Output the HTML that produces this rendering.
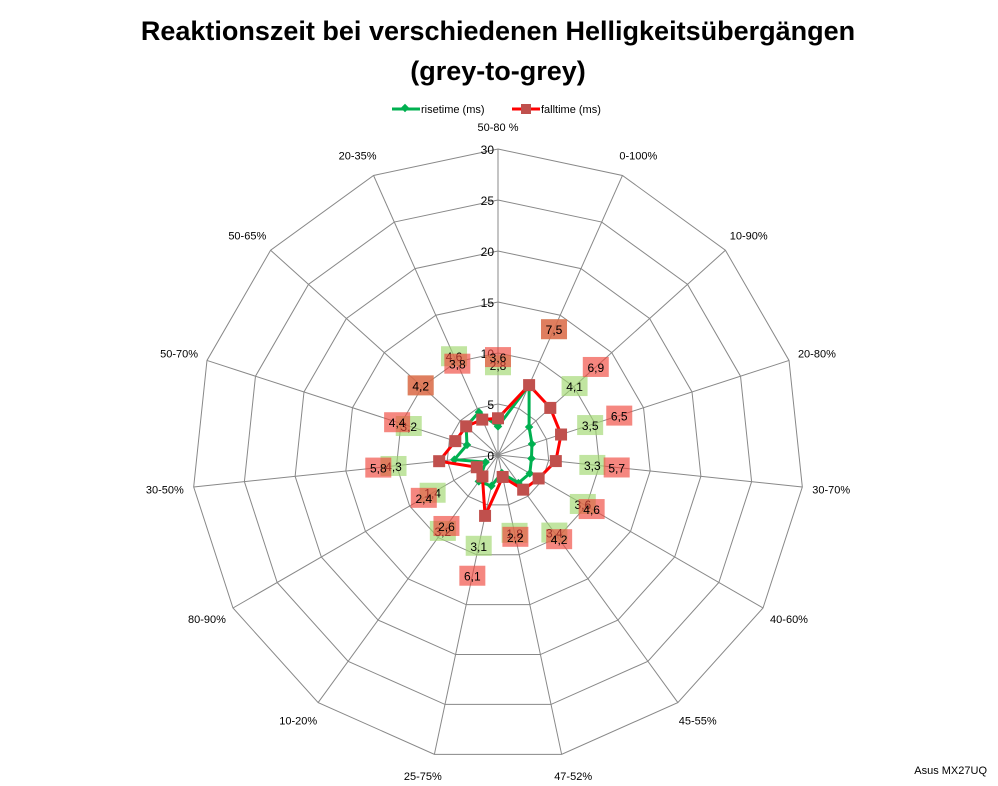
<!DOCTYPE html>
<html><head><meta charset="utf-8"><style>
body{margin:0;background:#fff;}
svg{display:block;font-family:"Liberation Sans",sans-serif;}
</style></head><body>
<svg id="chart" width="998" height="786" viewBox="0 0 998 786">
<text x="498" y="40" text-anchor="middle" font-size="27" font-weight="bold">Reaktionszeit bei verschiedenen Helligkeitsübergängen</text>
<text x="498" y="80" text-anchor="middle" font-size="27" font-weight="bold">(grey-to-grey)</text>
<g>
<g>
<line x1="392" y1="109" x2="420" y2="109" stroke="#00b050" stroke-width="3"/>
<rect x="402" y="105" width="6" height="6" fill="#00b050" transform="rotate(45 405 108)"/>
<text x="421" y="113" font-size="11">risetime (ms)</text></g>
<g>
<line x1="512" y1="109" x2="540" y2="109" stroke="#ff0000" stroke-width="3"/>
<rect x="521" y="104" width="10" height="10" fill="#c0504d"/>
<text x="541" y="113" font-size="11">falltime (ms)</text></g>
</g>
<g id="grid"></g><g id="series"></g><g id="labels"></g>
<text x="987" y="774" text-anchor="end" font-size="11">Asus MX27UQ</text>
</svg>
<script>
const categories=["50-80 %","0-100%","10-90%","20-80%","30-70%","40-60%","45-55%","47-52%","25-75%","10-20%","80-90%","30-50%","50-70%","50-65%","20-35%"];
const riseValues=[2.8,7.5,4.1,3.5,3.3,3.6,3.4,1.8,3.1,3.2,1.4,4.3,3.2,4.2,4.6];
const fallValues=[3.6,7.5,6.9,6.5,5.7,4.6,4.2,2.2,6.1,2.6,2.4,5.8,4.4,4.2,3.8];
const tickLabels=[0,5,10,15,20,25,30];
const NS="http://www.w3.org/2000/svg";
const cx=498,cy=455,R=306,maxV=30;
function ang(i){return i*2*Math.PI/categories.length;}
function px(i,v){return cx+Math.sin(ang(i))*v/maxV*R;}
function py(i,v){return cy-Math.cos(ang(i))*v/maxV*R;}
function mk(t,a,p){const e=document.createElementNS(NS,t);for(const k in a)e.setAttribute(k,a[k]);(p||document.getElementById('chart')).appendChild(e);return e;}
const grid=document.getElementById('grid'),ser=document.getElementById('series'),lab=document.getElementById('labels');
tickLabels.forEach(t=>{if(t===0)return;
 const pts=categories.map((c,i)=>px(i,t)+','+py(i,t)).join(' ');
 const g=mk('polygon',{points:pts,fill:'none',stroke:'#888','stroke-width':1},grid);
 
 });
categories.forEach((c,i)=>{
 const l=mk('line',{x1:cx,y1:cy,x2:px(i,maxV),y2:py(i,maxV),stroke:'#888','stroke-width':1},grid);
 
 
 const lx=cx+Math.sin(ang(i))*(R+22),ly=cy-Math.cos(ang(i))*(R+22)+4;
 let anchor='middle';const s=Math.sin(ang(i));if(s>0.2)anchor='start';else if(s<-0.2)anchor='end';
 const tx=mk('text',{x:lx-(anchor==='start'?12:anchor==='end'?-12:0),y:ly,'font-size':11,'text-anchor':anchor},grid);
 tx.textContent=c;
 
 });
tickLabels.forEach(t=>{
 const tx=mk('text',{x:cx-4,y:py(0,t)+5,'font-size':12,'text-anchor':'end'},grid);
 tx.textContent=t;
 
 });
function series(vals,color,isRise,name){
 const pts=vals.map((v,i)=>px(i,v)+','+py(i,v)).join(' ');
 const pl=mk('polygon',{points:pts,fill:'none',stroke:color,'stroke-width':3},ser);
 
 
 vals.forEach((v,i)=>{
  const x=px(i,v),y=py(i,v);let m;
  if(isRise){m=mk('rect',{x:x-3,y:y-3,width:6,height:6,fill:color,transform:'rotate(45 '+x+' '+y+')'},ser);}
  else{m=mk('rect',{x:x-6,y:y-6,width:12,height:12,fill:'#c0504d'},ser);}
  
  });
}
function labels(vals,bg,name){
 vals.forEach((v,i)=>{
  const x=px(i,v+6),y=py(i,v+6);
  const r=mk('rect',{x:x-13,y:y-10,width:26,height:20,fill:bg},lab);
  
  
  const t=mk('text',{x:x,y:y+5,'font-size':12,'text-anchor':'middle'},lab);
  t.textContent=String(v).replace('.',',');
  
  });
}
series(riseValues,'#00b050',true,'risetime');
series(fallValues,'#ff0000',false,'falltime');
labels(riseValues,'rgba(160,215,110,0.65)','risetime');
labels(fallValues,'rgba(240,70,60,0.65)','falltime');
</script>
</body></html>
